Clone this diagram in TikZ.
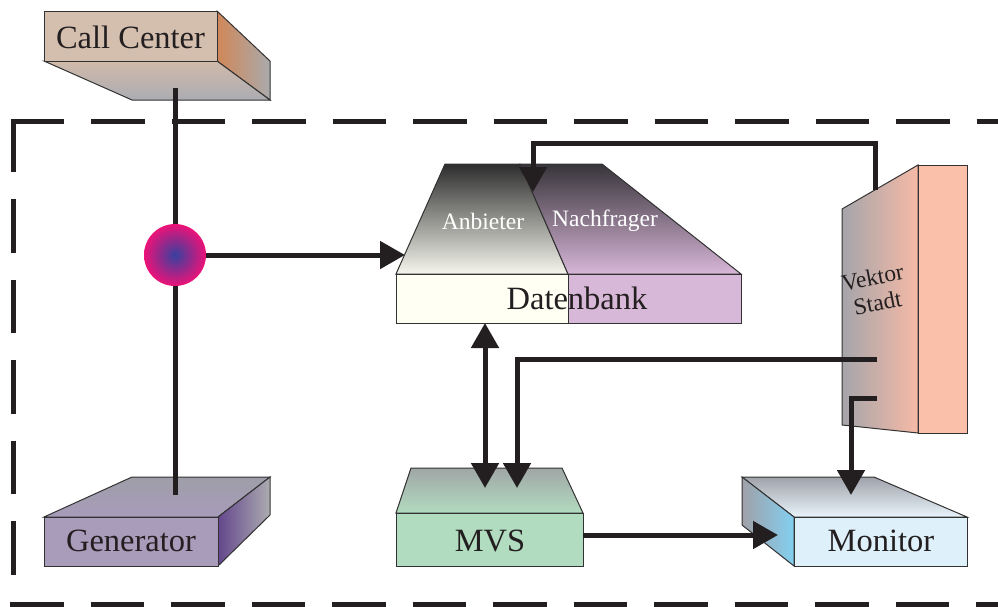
\documentclass[tikz,border=0pt]{standalone}
\usepackage{fontspec}
\setmainfont{Liberation Serif}
\usetikzlibrary{arrows.meta}
\definecolor{ink}{RGB}{35,31,32}
\definecolor{edge}{RGB}{50,50,50}
\tikzset{
  face/.style={draw=edge,line width=1pt,line join=miter},
  conn/.style={draw=ink,line width=5pt,line join=miter},
  tip/.style={-{Triangle[length=25pt,width=27pt]}},
  bigtxt/.style={text=ink,font=\fontsize{32.5}{38}\selectfont,inner sep=0pt},
  midtxt/.style={text=white,font=\fontsize{23.5}{28}\selectfont,inner sep=0pt},
  frame/.style={draw=ink,line width=5pt,dash pattern=on 53.5pt off 27pt}
}
\begin{document}
\begin{tikzpicture}[x=1pt,y=-1pt]
\useasboundingbox (0,0) rectangle (998,606);
% dashed frame
\draw[frame] (10.5,121) -- (998,121);
\draw[frame] (13,118.5) -- (13,606);
\draw[frame] (10,604) -- (998,604);

% Call Center
\shade[face,left color={rgb,255:red,208;green,135;blue,88},right color={rgb,255:red,170;green,170;blue,172}] (217,11) -- (270,61) -- (270,100) -- (217,61) -- cycle;
\shade[face,top color={rgb,255:red,208;green,186;blue,170},bottom color={rgb,255:red,172;green,172;blue,178}] (44,61) -- (217,61) -- (270,100) -- (132,100) -- cycle;
\draw[face,fill={rgb,255:red,212;green,190;blue,174}] (44,11) rectangle (217,61);
\node[bigtxt] (cc) at (130.5,37) {Call Center};

% Generator
\shade[face,top color={rgb,255:red,158;green,158;blue,168},bottom color={rgb,255:red,168;green,156;blue,186}] (44,517) -- (218,517) -- (270,477) -- (132,477) -- cycle;
\shade[face,left color={rgb,255:red,100;green,70;blue,140},right color={rgb,255:red,172;green,172;blue,176}] (218,517) -- (270,477) -- (270,515) -- (218,566) -- cycle;
\draw[face,fill={rgb,255:red,168;green,156;blue,186}] (44,517) rectangle (218,566);
\node[bigtxt] (gen) at (131,541) {Generator};

% Datenbank
\shade[face,top color={rgb,255:red,45;green,45;blue,45},bottom color={rgb,255:red,246;green,246;blue,238}] (396,274) -- (568,274) -- (520,164) -- (445,164) -- cycle;
\shade[face,top color={rgb,255:red,55;green,52;blue,58},bottom color={rgb,255:red,216;green,182;blue,216}] (568,274) -- (741,274) -- (602,164) -- (520,164) -- cycle;
\draw[face,fill={rgb,255:red,255;green,255;blue,244}] (396,274) rectangle (568,323);
\draw[face,fill={rgb,255:red,216;green,184;blue,216}] (568,274) rectangle (741,323);
\node[midtxt] (anb) at (483,221) {Anbieter};
\node[midtxt] (nach) at (605,221) {Nachfrager};
\node[bigtxt] (db) at (577,298) {Datenbank};

% MVS
\shade[face,top color={rgb,255:red,160;green,166;blue,166},bottom color={rgb,255:red,178;green,220;blue,192}] (396,513) -- (583,513) -- (562,468) -- (411,468) -- cycle;
\draw[face,fill={rgb,255:red,178;green,220;blue,192}] (396,513) rectangle (583,566);
\node[bigtxt] (mvs) at (490,541) {MVS};

% Monitor
\shade[face,top color={rgb,255:red,160;green,162;blue,170},bottom color={rgb,255:red,232;green,244;blue,250}] (742,477) -- (874,477) -- (967,517) -- (794,517) -- cycle;
\shade[face,left color={rgb,255:red,160;green,160;blue,168},right color={rgb,255:red,130;green,208;blue,240}] (742,477) -- (794,517) -- (794,566) -- (742,525) -- cycle;
\draw[face,fill={rgb,255:red,222;green,240;blue,250}] (794,517) rectangle (967,566);
\node[bigtxt] (mon) at (881,541) {Monitor};

% Vektor Stadt
\shade[face,left color={rgb,255:red,165;green,165;blue,170},right color={rgb,255:red,246;green,186;blue,166}] (842,209) -- (918,165) -- (918,433) -- (842,425) -- cycle;
\draw[face,fill={rgb,255:red,250;green,192;blue,170}] (918,165) rectangle (967,433);
\node[text=ink,font=\fontsize{23.5}{26}\selectfont,align=center,rotate=11,inner sep=0pt] (vs) at (875,290) {Vektor\\Stadt};

% connector anchor points
\coordinate (ccb) at (175,88);
\coordinate (gent) at (175,495);
\coordinate (hubR) at (206,255);
\coordinate (dbL) at (405,255);
\coordinate (vsTop) at (875,190);
\coordinate (dbTop) at (533,192);
\coordinate (vsA) at (877,359);
\coordinate (mvsA) at (517,488);
\coordinate (vsB) at (877,398);
\coordinate (monT) at (851,495);
\coordinate (dbB) at (485,323);
\coordinate (mvsB) at (485,488);
\coordinate (mvsR) at (583,535);
\coordinate (monL) at (778,535);

\draw[conn] (ccb) -- (gent);
\shade[inner color={rgb,255:red,55;green,65;blue,160},outer color={rgb,255:red,236;green,18;blue,120}] (175,255) circle (31);
\node[circle,minimum size=62pt,inner sep=0pt] (hub) at (175,255) {};
\draw[conn,tip] (hubR) -- (dbL);
\draw[conn,tip] (vsTop) |- (533,143) -- (dbTop);
\draw[conn,tip] (vsA) -| (mvsA);
\draw[conn,tip] (vsB) -| (monT);
\draw[conn,{Triangle[length=25pt,width=27pt]}-{Triangle[length=25pt,width=27pt]}] (dbB) -- (mvsB);
\draw[conn,tip] (mvsR) -- (monL);
\end{tikzpicture}
\end{document}
